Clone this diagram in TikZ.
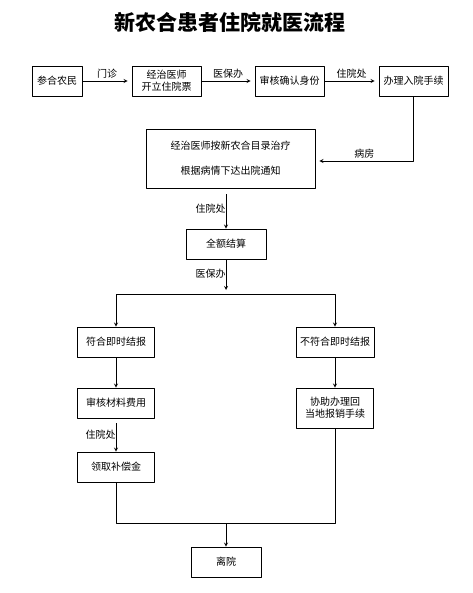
\documentclass[tikz,border=0pt]{standalone}
\usepackage{fontspec}
\setmainfont{Noto Sans CJK SC}
\usetikzlibrary{arrows}
\tikzset{
  box/.style={draw, line width=0.8pt, minimum width=#1, minimum height=30pt, inner sep=1pt, align=center},
  box/.default=69pt,
  lab/.style={font=\fontsize{10}{12}\selectfont, inner sep=2pt},
  flow/.style={->, line width=0.8pt, shorten >=4pt}
}
\begin{document}
\begin{tikzpicture}[x=1pt, y=-1pt, >=stealth, font=\fontsize{10}{12}\selectfont, line join=round]
	\useasboundingbox (0,0) rectangle (472,593);
	\def\lx{116} \def\mx{226} \def\rx{335}
	\node (title) at (230,22) {\bfseries\fontsize{21}{24}\selectfont 新农合患者住院就医流程};
	% first row
	\node[box=50pt] (cm) at (57,81) {参合农民};
	\node[box] (ks) at (166.5,81) {经治医师\\开立住院票};
	\node[box] (sh) at (289.5,81) {审核确认身份};
	\node[box] (bl) at (413.5,81) {办理入院手续};
	\draw[flow] (cm) -- (ks) node[lab, midway, above] {门诊};
	\draw[flow] (ks) -- (sh) node[lab, midway, above] {医保办};
	\draw[flow] (sh) -- (bl) node[lab, midway, above] {住院处};
	% treatment and settlement
	\node[box=169pt, minimum height=59pt] (zl) at (230.5,158.5) {经治医师按新农合目录治疗\\[13pt]根据病情下达出院通知};
	\draw[flow] (bl) |- ([yshift=-2.5pt]zl.east) node[lab, pos=0.75, above] {病房};
	\node[box=80pt] (js) at (\mx,244) {全额结算};
	\draw[flow, shorten <=6pt, shorten >=0pt] (zl.south -| js.north) -- (js.north) node[lab, midway, left, inner sep=0pt] {住院处};
	\coordinate (fork) at (\mx,294);
	\draw[flow] (js) -- (fork) node[lab, pos=0.4, left, inner sep=0pt] {医保办};
	% two branches
	\node[box=77pt] (fh) at (\lx,342) {符合即时结报};
	\node[box=78pt] (bf) at (\rx,342) {不符合即时结报};
	\draw[flow, shorten >=0pt] (fork) -| (fh);
	\draw[flow, shorten >=0pt] (fork) -| (bf);
	\node[box=77pt] (sc) at (\lx,403) {审核材料费用};
	\node[box=77pt, minimum height=40pt] (xz) at (\rx,408) {协助办理回\\当地报销手续};
	\node[box=77pt] (lq) at (\lx,467) {领取补偿金};
	\draw[flow, shorten >=0pt] (fh) -- (sc);
	\draw[flow, shorten >=0pt] (bf) -- (xz);
	\draw[flow, shorten <=5pt, shorten >=0pt] (sc) -- (lq) node[lab, midway, left, inner sep=0pt] {住院处};
	% leaving hospital
	\node[box=70pt] (ly) at (\mx,562) {离院};
	\coordinate (join) at (\mx,523);
	\draw[line width=0.8pt] (lq) |- (join);
	\draw[line width=0.8pt] (xz) |- (join);
	\draw[flow, shorten >=0pt] (join) -- (ly);
\end{tikzpicture}
\end{document}
